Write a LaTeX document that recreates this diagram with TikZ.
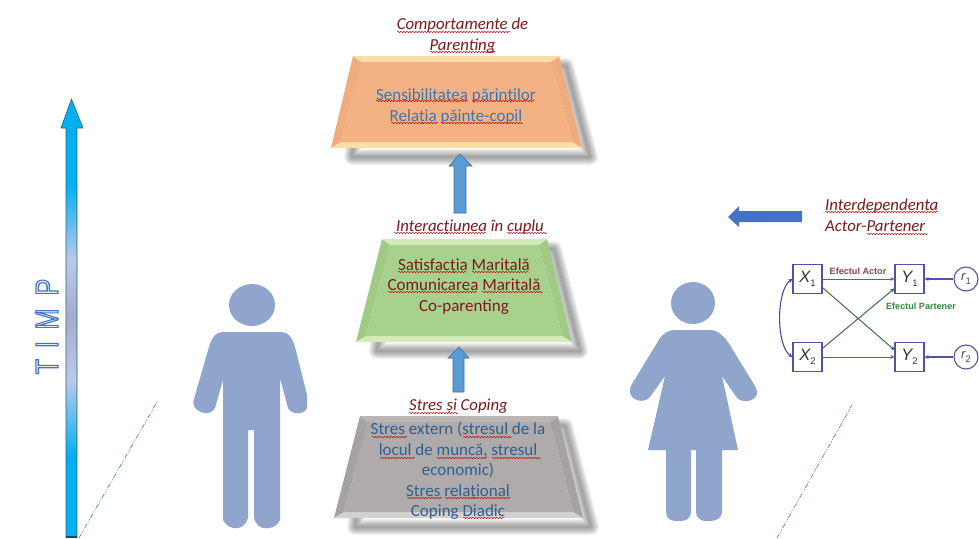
\documentclass[tikz,border=0pt]{standalone}
\usepackage{fontspec}
\usepackage{graphicx}
\setmainfont{Carlito}
\newfontfamily\arialf{Liberation Sans}
\usetikzlibrary{decorations.pathmorphing,arrows.meta}
\definecolor{figblue}{HTML}{8FA5CB}
\definecolor{titlered}{HTML}{7A1A1E}
\definecolor{txtblue}{HTML}{3F75AE}
\definecolor{txtgrey}{HTML}{2F5F8F}
\definecolor{arrowblue}{HTML}{5B9BD5}
\definecolor{arrowedge}{HTML}{41719C}
\definecolor{leftblue}{HTML}{4472C4}
\definecolor{boxedge}{HTML}{5252A8}
\definecolor{actred}{HTML}{9E4A50}
\definecolor{partgreen}{HTML}{3F6B4F}
\definecolor{labgreen}{HTML}{2E8B3A}
\definecolor{cyanbar}{HTML}{00B0F0}
\definecolor{palebar}{HTML}{BCC8EA}
\definecolor{midbar}{HTML}{A4AECB}
\definecolor{orangeface}{HTML}{F4B183}
\definecolor{orangelight}{HTML}{FBDDA8}
\definecolor{orangeside}{HTML}{EFAC7E}
\definecolor{greenface}{HTML}{A9D18E}
\definecolor{greenlight}{HTML}{D3EBBB}
\definecolor{greenside}{HTML}{A1CA86}
\definecolor{greyface}{HTML}{AFABAB}
\definecolor{greylight}{HTML}{D4D1D1}
\definecolor{greyside}{HTML}{A6A2A2}
\definecolor{greytop}{HTML}{B9B5B5}
\tikzset{
  titletext/.style={font=\fontsize{16.8}{20.8}\selectfont\itshape,text=titlered,align=left,inner sep=0pt},
  boxtext/.style={font=\fontsize{17}{20.5}\selectfont,align=center,inner sep=0pt},
  wavy/.style={draw=red!75!black,line width=.45pt,decorate,decoration={snake,segment length=3pt,amplitude=.7pt}},
  blockarrow/.style={fill=arrowblue,draw=arrowedge,line width=.6pt},
  figure shape/.style={fill=figblue,draw=none},
  sembox/.style={draw=boxedge,fill=white,line width=1.2pt,minimum size=29pt,inner sep=0pt,font=\arialf\fontsize{16.5}{18}\selectfont\itshape,text=black!80},
  semcirc/.style={circle,draw=boxedge,fill=white,line width=1.1pt,minimum size=24pt,inner sep=0pt,font=\arialf\fontsize{13}{15}\selectfont\itshape,text=black!70},
  semlabel/.style={font=\arialf\fontsize{9.1}{11}\selectfont\bfseries,inner sep=0pt},
  actline/.style={draw=actred,line width=1pt,-{Stealth[length=4pt,width=4pt]}},
  partline/.style={draw=partgreen,line width=1pt,-{Stealth[length=4pt,width=4pt]}},
  blueline/.style={draw=boxedge,line width=1.2pt,-{Stealth[length=4pt,width=4pt]}},
  curveline/.style={draw=boxedge!90!black,line width=1.1pt,{Stealth[length=4pt,width=4pt]}-{Stealth[length=4pt,width=4pt]}},
  dashline/.style={draw=leftblue,line width=.6pt,dash pattern=on 5pt off 1.5pt on 1pt off 1.5pt on 1pt off 1.5pt},
}
\newcommand{\subnum}[1]{\raisebox{-3.5pt}{\fontsize{9.5}{10}\selectfont\upshape #1}}
% #1..#4 outer: top-left x, top-right x, bottom-right x, bottom-left x; #5 top y; #6 bottom y; #7 face; #8 top bevel; #9 side bevel; \botbevel bottom bevel
\newcommand{\trapshape}[9]{%
  \foreach \w in {2,4,...,16}{
    \draw[black,opacity=.05,line width=\w pt,line join=round]
      ({#1+10},{#5+10}) -- ({#2+7},{#5+10}) -- ({#3+8},{#6+9}) -- ({#4+21},{#6+9}) -- cycle;
  }
  \fill[#9] (#1,#5) -- ({#1+8},{#5+6}) -- ({#4+10},{#6-6}) -- (#4,#6) -- cycle;
  \fill[#9] (#2,#5) -- ({#2-8},{#5+6}) -- ({#3-10},{#6-6}) -- (#3,#6) -- cycle;
  \fill[#8] (#1,#5) -- (#2,#5) -- ({#2-8},{#5+6}) -- ({#1+8},{#5+6}) -- cycle;
  \fill[\botbevel] (#4,#6) -- (#3,#6) -- ({#3-10},{#6-6}) -- ({#4+10},{#6-6}) -- cycle;
  \fill[#7] ({#1+8},{#5+6}) -- ({#2-8},{#5+6}) -- ({#3-10},{#6-6}) -- ({#4+10},{#6-6}) -- cycle;
}
\begin{document}
\begin{tikzpicture}[x=1pt,y=-1pt]
\useasboundingbox (0,0) rectangle (979,538);
\fill[white] (0,0) rectangle (979,538);

% time axis
\begin{scope}
  \fill[cyanbar] (66,128) rectangle (77,183);
  \shade[top color=cyanbar,bottom color=palebar] (66,183) rectangle (77,260);
  \shade[top color=palebar,bottom color=midbar] (66,260) rectangle (77,317);
  \shade[top color=midbar,bottom color=palebar] (66,317) rectangle (77,380);
  \shade[top color=palebar,bottom color=cyanbar] (66,380) rectangle (77,457);
  \fill[cyanbar] (66,457) rectangle (77,538);
  \fill[cyanbar] (71.5,99) -- (83,128) -- (61,128) -- cycle;
  \draw[arrowedge!80!black,line width=.6pt] (66,538) -- (66,128) -- (61,128) -- (71.5,99) -- (83,128) -- (77,128) -- (77,538);
  \fill[arrowedge!60!black] (66,536) rectangle (77,538);
\end{scope}
\node[rotate=90,inner sep=0pt,text=leftblue,font=\arialf\fontsize{32}{32}\selectfont] (timp) at (47,326.5) {\special{pdf:code 1 Tr 1.4 w}\scalebox{.78}[1]{T\hspace{14pt}I\hspace{15pt}M\hspace{17pt}P}\special{pdf:code 0 Tr}};

\draw[dashline] (79,538) -- (157,402);
\draw[dashline] (777,538) -- (852,405);

% man
\fill[figure shape] (252,305) ellipse [x radius=23,y radius=21];
\fill[figure shape] (222,332) -- (282,332) .. controls (289,332) and (293,340) .. (295,347)
 -- (307,395) -- (307,408) .. controls (305,414) and (292,416) .. (288,408) -- (280,378)
 -- (280,520) .. controls (276,528) and (268,529) .. (263,528) .. controls (259,527) and (255,523) .. (254,518)
 -- (254,430) -- (248,430) -- (248,518) .. controls (247,523) and (242,528) .. (238,528) .. controls (232,529) and (226,526) .. (223,520)
 -- (223,380) -- (215,408) .. controls (211,416) and (198,414) .. (194,406) .. controls (193,403) and (193,401) .. (194,399)
 -- (209,347) .. controls (211,340) and (215,332) .. (222,332) -- cycle;

% woman
\fill[figure shape] (693,303) ellipse [x radius=22,y radius=21];
\fill[figure shape] (675,330) -- (712,330) .. controls (718,331) and (724,336) .. (728,342)
 -- (755,386) .. controls (760,394) and (755,401) .. (746,401) .. controls (741,401) and (738,400) .. (735,395)
 -- (722,376) -- (738,450) -- (722,450) -- (722,512) .. controls (722,518) and (716,521) .. (710,521)
 -- (705,521) .. controls (700,521) and (696,517) .. (696,512) -- (696,450) -- (691,450) -- (691,512)
 .. controls (691,518) and (686,521) .. (681,521) -- (676,521) .. controls (670,521) and (666,518) .. (666,512)
 -- (666,450) -- (648,450) -- (665,376) -- (650,397) .. controls (646,402) and (638,402) .. (633,398)
 .. controls (629,394) and (629,389) .. (632,384) -- (660,338) .. controls (664,333) and (669,330) .. (675,330) -- cycle;

% trapezoids
\def\botbevel{orangelight}
\trapshape{353}{559}{582}{331}{56}{148}{orangeface}{orangelight}{orangeside}
\def\botbevel{greenlight}
\trapshape{382}{547}{572}{356}{239}{342}{greenface}{greenlight}{greenside}
\def\botbevel{greylight}
\trapshape{360}{558}{583}{334}{416}{518}{greyface}{greytop}{greyside}

% block arrows
\draw[blockarrow] (454,213) -- (454,166) -- (449,166) -- (460,154) -- (472,166) -- (466,166) -- (466,213) -- cycle;
\draw[blockarrow] (453,392) -- (453,358) -- (448,358) -- (459,347) -- (469,358) -- (464,358) -- (464,392) -- cycle;
\fill[leftblue] (802,211) -- (739,211) -- (739,206) -- (728,217) -- (739,227) -- (739,222) -- (802,222) -- cycle;

% headings
\node[titletext,align=center] (t1) at (462.5,36) {Comportamente de\\Parenting};
\node[titletext] (t2) at (470,227) {Interacțiunea în cuplu};
\node[titletext] (t3) at (458.5,406) {Stres și Coping};
\node[titletext,anchor=west] (t4) at (825,215.5) {Interdependenta\\Actor-Partener};

% box texts
\node[boxtext,text=txtblue] (b1) at (456,106.5) {Sensibilitatea părinților\\Relația păinte-copil};
\node[boxtext,text=titlered] (b2) at (464,286.5) {Satisfacția Maritală\\Comunicarea Maritală\\Co-parenting};
\node[boxtext,text=txtgrey] (b3) at (458,471) {Stres extern (stresul de la\\locul de muncă, stresul\\economic)\\Stres relațional\\Coping Diadic};

% spell-check waves: x1/x2/y
\foreach \a/\b/\c in {397/511/32,430/495/52,376/468/101,472/535/101,391/438/123,441/523/123,
  394/486/233,507/547/233,398/467/272,472/529/272,388/477/292,482/543/292,
  409/458/413,372/407/437,463/512/437,380/415/458,437/487/458,492/541/458,
  407/442/498,445/510/498,463/505/518,825/939/212,867/928/234}{
  \path[wavy] (\a,\c) -- (\b,\c);
}

% actor-partner model
\node[sembox] (X1) at (807.5,279) {X\subnum{1}};
\node[sembox] (Y1) at (909.5,279) {Y\subnum{1}};
\node[sembox] (X2) at (807.5,357) {X\subnum{2}};
\node[sembox] (Y2) at (909.5,357) {Y\subnum{2}};
\node[semcirc] (r1) at (966,279) {r\subnum{1}};
\node[semcirc] (r2) at (966,357) {r\subnum{2}};
\draw[actline] (X1) -- (Y1);
\draw[actline] (X2) -- (Y2);
\draw[partline] (X1.-30) -- (Y2.155);
\draw[partline] (X2.30) -- (Y1.-148);
\draw[blueline] (r1) -- (Y1);
\draw[blueline] (r2) -- (Y2);
\draw[curveline] (X1.west) .. controls (776,290) and (776,346) .. (X2.west);
\node[semlabel,text=actred!90!black] (lA) at (858,271) {Efectul Actor};
\node[semlabel,text=labgreen] (lP) at (921,306) {Efectul Partener};
\end{tikzpicture}
\end{document}
